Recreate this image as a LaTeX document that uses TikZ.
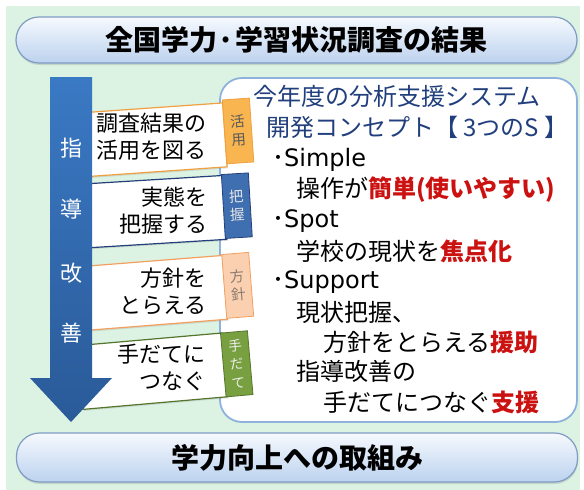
\documentclass[tikz,border=0pt]{standalone}
\usepackage{fontspec}
\setmainfont{Noto Sans CJK JP}
\newfontfamily\lat{DejaVu Sans}
\usetikzlibrary{shadows}
\definecolor{bg}{HTML}{DCF2E3}
\definecolor{bannerline}{HTML}{7F9CC4}
\definecolor{bannertop}{HTML}{F6F9FE}
\definecolor{bannerbot}{HTML}{BCD2EE}
\definecolor{panelline}{HTML}{8FB2DD}
\definecolor{navy}{HTML}{213F7D}
\definecolor{redtxt}{HTML}{CC1111}
\definecolor{arrowtop}{HTML}{3A79C4}
\definecolor{arrowbot}{HTML}{2A5A98}
\definecolor{line1}{HTML}{F0A040}
\definecolor{fill1}{HTML}{F8B550}
\definecolor{txt1}{HTML}{5A5A5A}
\definecolor{line2}{HTML}{24407A}
\definecolor{fill2}{HTML}{3F6FB0}
\definecolor{txt2}{HTML}{E4E4E4}
\definecolor{line3}{HTML}{F2A060}
\definecolor{fill3}{HTML}{FAD0B0}
\definecolor{txt3}{HTML}{8C7B70}
\definecolor{line4}{HTML}{55752C}
\definecolor{fill4}{HTML}{78A040}
\definecolor{txt4}{HTML}{EEEEEE}
\begin{document}
\begin{tikzpicture}[x=1pt,y=-1pt,
  banner/.style={draw=bannerline, line width=1.2pt, rounded corners=23pt,
    top color=bannertop, bottom color=bannerbot, minimum width=561pt,
    minimum height=46pt, inner sep=0pt,
    font=\bfseries\fontsize{28}{30}\selectfont,
    drop shadow={shadow xshift=0.5pt, shadow yshift=-2pt, opacity=0.25}},
  panel/.style={draw=panelline, line width=1.8pt, fill=white, rounded corners=22pt,
    minimum width=357pt, minimum height=344pt, inner sep=0pt},
  ptxt/.style={anchor=west, inner sep=0pt, font=\fontsize{24}{28}\selectfont},
  boxbody/.style={fill=white, line width=1.2pt, minimum width=145pt,
    minimum height=64pt, inner sep=0pt,
    drop shadow={shadow xshift=1pt, shadow yshift=-1.5pt, opacity=0.2}},
  tagbox/.style={line width=0.8pt, minimum width=27pt, minimum height=64pt,
    inner sep=0pt, align=center, font=\fontsize{14.5}{18}\selectfont},
  btxt/.style={inner sep=0pt, font=\fontsize{22}{27}\selectfont},
  atxt/.style={inner sep=0pt, text=white, font=\fontsize{22}{24}\selectfont}]
\useasboundingbox (0,0) rectangle (584,490);
\fill[bg] (6,6) rectangle (580,490);

% banners
\node[banner] (top) at (296.5,40) {全国学力·学習状況調査の結果};
\node[banner, minimum height=49pt] (bottom) at (297,457.5) {学力向上への取組み};

% panel
\node[panel] (panel) at (398.5,250) {};
\node[ptxt, text=navy] (t1) at (253,96) {今年度の分析支援システム};
\node[ptxt, text=navy] (t2) at (266,127) {開発コンセプト【 3つのS 】};
\node[ptxt] (t3) at (272,160) {･{\lat\fontsize{24}{28}\selectfont Simple}};
\node[ptxt] (t4) at (296,190) {操作が{\bfseries\color{redtxt}簡単(使いやすい)}};
\node[ptxt] (t5) at (272,221) {･{\lat\fontsize{24}{28}\selectfont Spot}};
\node[ptxt] (t6) at (296,251) {学校の現状を{\bfseries\color{redtxt}焦点化}};
\node[ptxt] (t7) at (272,282) {･{\lat\fontsize{24}{28}\selectfont Support}};
\node[ptxt] (t8) at (296,312) {現状把握、};
\node[ptxt] (t9) at (323,342) {方針をとらえる{\bfseries\color{redtxt}援助}};
\node[ptxt] (t10) at (296,371) {指導改善の};
\node[ptxt] (t11) at (323,402) {手だてにつなぐ{\bfseries\color{redtxt}支援}};

% boxes
\begin{scope}[shift={(166,139)}, rotate=4, transform shape]
  \node[boxbody, draw=line1] (b1) at (-13.5,0) {};
  \node[tagbox, fill=fill1, draw=line1, text=txt1] (g1) at (72.5,-3) {活\\用};
\end{scope}
\begin{scope}[shift={(166,211)}, rotate=3.5, transform shape]
  \node[boxbody, draw=line2] (b2) at (-13.5,0) {};
  \node[tagbox, fill=fill2, draw=line2, text=txt2] (g2) at (71,-1) {把\\握};
\end{scope}
\begin{scope}[shift={(166,292)}, rotate=4.5, transform shape]
  \node[boxbody, draw=line3] (b3) at (-13.5,0) {};
  \node[tagbox, fill=fill3, draw=line3, text=txt3] (g3) at (72,-1) {方\\針};
\end{scope}
\begin{scope}[shift={(166,370)}, rotate=5, transform shape]
  \node[boxbody, draw=line4] (b4) at (-13.5,0) {};
  \node[tagbox, fill=fill4, draw=line4, text=txt4, font=\fontsize{13.5}{18.5}\selectfont] (g4) at (71,0) {手\\だ\\て};
\end{scope}

\node[btxt, anchor=west, align=left] (x1) at (96,137) {調査結果の\\活用を図る};
\node[btxt, anchor=east, align=right] (x2) at (208,211) {実態を\\把握する};
\node[btxt, anchor=east, align=right] (x3) at (207,291) {方針を\\とらえる};
\node[btxt, anchor=east, align=right] (x4) at (206,367) {手だてに\\つなぐ};

% arrow
\shade[top color=arrowtop, bottom color=arrowbot]
  (50,77) -- (92,77) -- (92,378) -- (112,378) -- (71,422) -- (30,378) -- (50,378) -- cycle;
\node[atxt] (a1) at (71,148) {指};
\node[atxt] (a2) at (71,209) {導};
\node[atxt] (a3) at (71,273) {改};
\node[atxt] (a4) at (71,333) {善};
\end{tikzpicture}
\end{document}
